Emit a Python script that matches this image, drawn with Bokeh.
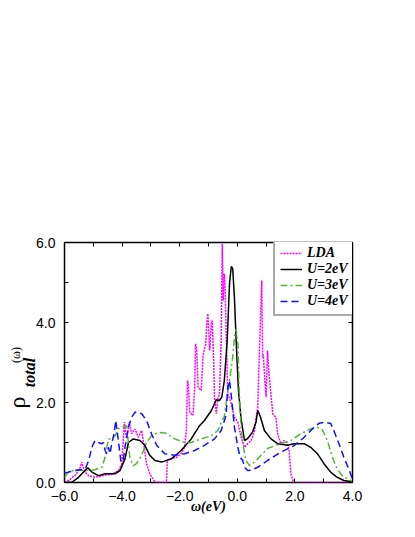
from bokeh.plotting import figure
from bokeh.models import Range1d, LinearAxis, FixedTicker, Legend, LegendItem
from bokeh.embed import file_html
from bokeh.resources import INLINE

# ---------------- data ----------------
x_ticks = [-6, -4, -2, 0, 2, 4]
x_minor = [-5, -3, -1, 1, 3]
x_tick_labels = ["\u22126.0", "\u22124.0", "\u22122.0", "0.0", "2.0", "4.0"]
y_ticks = [0, 2, 4, 6]
y_minor = [1, 3, 5]
y_tick_labels = ["0.0", "2.0", "4.0", "6.0"]

series_names = ["LDA", "U=2eV", "U=3eV", "U=4eV"]

lda_x = [-6.0, -5.86, -5.6, -5.45, -5.4, -5.34, -5.28, -5.16, -4.94, -4.7, -4.36, -4.13,
         -4.01, -3.96, -3.92, -3.88, -3.84, -3.75, -3.67, -3.55, -3.44, -3.32, -3.23, -3.15,
         -3.04, -2.9, -2.8, -2.46, -2.43, -2.4, -2.11, -1.95, -1.83, -1.77, -1.73, -1.70,
         -1.65, -1.54, -1.48, -1.45, -1.41, -1.36, -1.25, -1.19, -1.14, -1.1, -1.05, -1.02,
         -0.96, -0.9, -0.87, -0.82, -0.79, -0.73, -0.67, -0.62, -0.56, -0.52, -0.49, -0.45,
         -0.42, -0.38, -0.33, -0.21, -0.1, 0.02, 0.13, 0.25, 0.36, 0.48, 0.6, 0.65, 0.71,
         0.76, 0.85, 0.88, 0.9, 0.96, 1.0, 1.05, 1.1, 1.23, 1.34, 1.4, 1.51, 1.63, 1.74,
         1.8, 1.86, 1.95, 4.0]
lda_y = [0.0, 0.05, 0.2, 0.38, 0.51, 0.35, 0.26, 0.17, 0.13, 0.17, 0.2, 0.3,
         0.47, 1.05, 1.51, 1.25, 1.1, 1.51, 1.22, 1.34, 1.13, 1.3, 0.88, 0.47,
         0.22, 0.05, 0.0, 0.0, 0.55, 0.58, 0.63, 0.72, 0.88, 1.3, 2.55, 2.45,
         1.75, 1.68, 2.38, 3.47, 3.3, 2.38, 2.3, 3.17, 3.35, 3.42, 4.05, 4.22,
         3.3, 3.97, 4.05, 3.0, 2.13, 1.72, 2.13, 2.2, 3.55, 5.97, 4.55, 5.22,
         4.8, 3.55, 2.22, 1.97, 1.63, 1.51, 1.13, 0.88, 0.97, 1.05, 1.3, 1.6, 1.88,
         3.13, 5.05, 3.13, 3.2, 2.55, 2.13, 3.3, 2.72, 1.72, 1.63, 1.22, 0.97, 1.05, 0.98,
         0.8, 0.22, 0.0, 0.0]

u2_x = [-6.0, -5.74, -5.51, -5.34, -5.19, -5.05, -4.82, -4.59, -4.24, -4.07, -3.9, -3.78,
        -3.61, -3.38, -3.21, -3.04, -2.86, -2.63, -2.29, -1.95, -1.6, -1.31, -1.14, -0.9,
        -0.73, -0.62, -0.54, -0.45, -0.35, -0.27, -0.21, -0.16, -0.1, -0.04, 0.04, 0.13,
        0.25, 0.36, 0.53, 0.65, 0.71, 0.8, 0.94, 1.17, 1.4, 1.74, 1.97, 2.32, 2.55, 2.78,
        3.01, 3.24, 3.47, 3.7, 4.0]
u2_y = [0.0, 0.01, 0.13, 0.26, 0.37, 0.26, 0.17, 0.22, 0.22, 0.3, 0.59, 1.0,
        1.09, 1.05, 0.93, 0.68, 0.55, 0.51, 0.59, 0.8, 1.09, 1.42, 1.55, 1.8,
        2.07, 2.05, 2.13, 2.55, 3.55, 4.97, 5.4, 5.35, 4.63, 3.55, 2.3, 1.6,
        1.05, 1.1, 1.26, 1.51, 1.8, 1.65, 1.3, 1.09, 0.97, 0.93, 0.97, 0.97, 0.88, 0.72,
        0.47, 0.26, 0.13, 0.05, 0.02]

u3_x = [-6.0, -5.86, -5.63, -5.4, -5.16, -4.94, -4.7, -4.59, -4.53, -4.47, -4.36, -4.24,
        -4.13, -4.01, -3.9, -3.84, -3.78, -3.73, -3.61, -3.5, -3.32, -3.15, -2.98, -2.75,
        -2.52, -2.17, -1.83, -1.6, -1.25, -0.9, -0.67, -0.56, -0.45, -0.39, -0.27, -0.16,
        -0.1, -0.04, 0.02, 0.07, 0.13, 0.19, 0.3, 0.42, 0.59, 0.76, 1.05, 1.51, 1.86, 2.2,
        2.55, 2.78, 2.95, 3.13, 3.3, 3.47, 3.64, 3.87, 4.0]
u3_y = [0.13, 0.26, 0.32, 0.3, 0.3, 0.32, 0.38, 0.63, 0.88, 1.09, 1.09, 1.17,
        1.34, 1.38, 1.4, 1.42, 0.97, 0.63, 0.42, 0.47, 0.68, 1.0, 1.17, 1.25,
        1.24, 1.09, 1.0, 1.0, 1.09, 1.17, 1.3, 1.5, 1.65, 1.97, 2.55, 3.13,
        3.63, 3.84, 3.47, 2.22, 1.38, 0.97, 0.55, 0.42, 0.51, 0.63, 0.85, 0.97, 1.05, 1.22,
        1.34, 1.38, 1.32, 1.05, 0.63, 0.34, 0.17, 0.07, 0.03]

u4_x = [-6.0, -5.86, -5.63, -5.28, -5.16, -5.05, -4.94, -4.82, -4.7, -4.65, -4.59, -4.53,
        -4.47, -4.42, -4.36, -4.28, -4.22, -4.16, -4.1, -4.04, -3.96, -3.9, -3.78, -3.67,
        -3.55, -3.32, -3.15, -2.98, -2.8, -2.63, -2.52, -2.17, -1.83, -1.48, -1.14, -0.79,
        -0.56, -0.39, -0.33, -0.27, -0.19, -0.1, 0.02, 0.1, 0.19, 0.25, 0.36, 0.48, 0.71,
        1.05, 1.51, 1.97, 2.32, 2.66, 2.84, 3.01, 3.24, 3.35, 3.53, 3.7, 3.87, 4.0]
u4_y = [0.23, 0.26, 0.3, 0.34, 0.55, 0.88, 1.05, 1.0, 0.97, 1.0, 0.8, 0.72,
        0.88, 0.72, 0.97, 1.22, 1.55, 1.22, 0.88, 0.51, 0.55, 0.88, 1.38, 1.63,
        1.76, 1.72, 1.55, 1.22, 0.93, 0.8, 0.72, 0.68, 0.72, 0.8, 0.93, 1.09,
        1.3, 1.68, 2.38, 2.55, 2.05, 1.38, 0.88, 0.63, 0.55, 0.38, 0.3, 0.31, 0.38,
        0.55, 0.76, 0.92, 1.13, 1.38, 1.48, 1.5, 1.48, 1.3, 0.97, 0.63, 0.34, 0.08]

# ---------------- figure ----------------
p = figure(width=399, height=521, output_backend="svg", toolbar_location=None,
           x_range=Range1d(-6, 4), y_range=Range1d(0, 6),
           x_axis_type=None, y_axis_type=None,
           min_border_left=62, min_border_right=47, min_border_top=242, min_border_bottom=39)
p.outline_line_color = "black"
p.outline_line_width = 1.5
p.background_fill_color = "white"
p.border_fill_color = "white"

x_tick = FixedTicker(ticks=x_ticks, minor_ticks=x_minor)
y_tick = FixedTicker(ticks=y_ticks, minor_ticks=y_minor)


def style_axis(ax, show_labels, standoff=8):
    ax.axis_line_color = None
    ax.major_tick_in = 4
    ax.major_tick_out = 0
    ax.minor_tick_in = 4
    ax.minor_tick_out = 0
    ax.major_tick_line_color = "black"
    ax.minor_tick_line_color = "black"
    ax.major_tick_line_width = 1
    ax.minor_tick_line_width = 1
    if show_labels:
        ax.major_label_text_font = "Liberation Sans"
        ax.major_label_text_font_size = "14px"
        ax.major_label_text_color = "black"
        ax.major_label_standoff = standoff
    else:
        ax.major_label_text_color = None


def title_axis(text, size, style, standoff):
    # an axis that carries only a title
    ax = LinearAxis(ticker=FixedTicker(ticks=[]))
    ax.axis_line_color = None
    ax.major_tick_in = 0
    ax.major_tick_out = 0
    ax.minor_tick_in = 0
    ax.minor_tick_out = 0
    ax.major_tick_line_color = None
    ax.minor_tick_line_color = None
    ax.major_label_text_color = None
    ax.axis_label = text
    ax.axis_label_text_font = "Liberation Serif"
    ax.axis_label_text_font_size = size
    ax.axis_label_text_font_style = style
    ax.axis_label_text_color = "black"
    ax.axis_label_standoff = standoff
    return ax


xb = LinearAxis(ticker=x_tick)
xb.major_label_overrides = dict(zip(x_ticks, x_tick_labels))
style_axis(xb, True, 8)
xb.axis_label = "\u03c9(eV)"
xb.axis_label_text_font = "Liberation Serif"
xb.axis_label_text_font_size = "14px"
xb.axis_label_text_font_style = "bold italic"
xb.axis_label_text_color = "black"
xb.axis_label_standoff = -5
p.add_layout(xb, "below")

yl = LinearAxis(ticker=y_tick)
yl.major_label_overrides = dict(zip(y_ticks, y_tick_labels))
style_axis(yl, True, 9)
p.add_layout(yl, "left")

# y title: rho with subscript "total" and superscript "(omega)"
p.add_layout(title_axis("total\u2002\u2002\u2005", "16px", "bold italic", -4), "left")
p.add_layout(title_axis("\u03c1\u2003\u2003\u2003\u2004", "24px", "normal", -12), "left")
p.add_layout(title_axis("\u2003\u2005(\u03c9)", "12px", "normal", -22), "left")

xt = LinearAxis(ticker=x_tick)
style_axis(xt, False)
p.add_layout(xt, "above")

yr = LinearAxis(ticker=y_tick)
style_axis(yr, False)
p.add_layout(yr, "right")

r_lda = p.line(lda_x, lda_y, line_color="#ff00ff", line_width=1.5, line_dash="2 1")
r_u2 = p.line(u2_x, u2_y, line_color="black", line_width=1.5)
r_u3 = p.line(u3_x, u3_y, line_color="#52b534", line_width=1.5, line_dash="7 3 2 3")
r_u4 = p.line(u4_x, u4_y, line_color="#1010ff", line_width=1.5, line_dash="7 4")

legend = Legend(items=[LegendItem(label=n, renderers=[r]) for n, r in
                       zip(series_names, [r_lda, r_u2, r_u3, r_u4])],
                location=(209, 166), margin=0, padding=5, spacing=0,
                glyph_width=22, glyph_height=16, label_height=16, label_standoff=5,
                label_text_font="Liberation Serif", label_text_font_style="bold italic",
                label_text_font_size="14px", label_text_color="black",
                border_line_color="#555555", border_line_width=2,
                background_fill_color="white", background_fill_alpha=1.0)
p.add_layout(legend)

open("out.html", "w").write(file_html(p, INLINE))
